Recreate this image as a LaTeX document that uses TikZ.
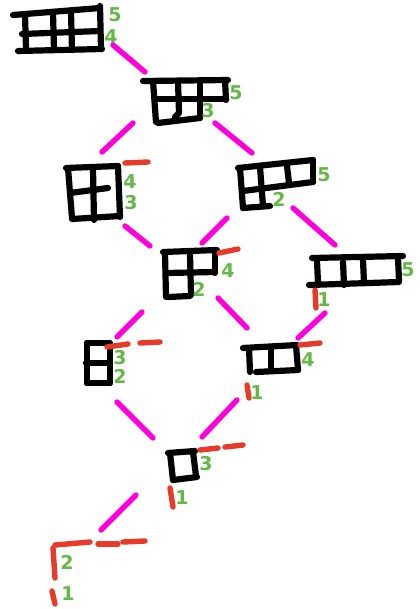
\documentclass[tikz,border=0pt]{standalone}
\usepackage{fontspec}
\newfontfamily\labfont{DejaVu Sans}
\definecolor{mag}{RGB}{255,0,220}
\definecolor{rd}{RGB}{232,58,40}
\definecolor{gr}{RGB}{98,186,70}
\tikzset{
  ink/.style={line width=3.1pt, line cap=round, line join=round, black},
  link/.style={line width=2.7pt, line cap=round, mag},
  edge/.style={line width=2.7pt, line cap=round, rd},
  lab/.style={text=gr, font=\labfont\bfseries\fontsize{9.5}{9.5}\selectfont, inner sep=0pt}
}
\begin{document}
\begin{tikzpicture}[x=0.5pt,y=-0.5pt]
\useasboundingbox (0,0) rectangle (419,609);
% ---- A: 3+3
\draw[ink] (13,15) -- (100,8);
\draw[ink] (22,34) -- (100,31);
\draw[ink] (18,51) -- (102,49);
\draw[ink] (25,15) -- (26,48);
\draw[ink] (53,13) -- (54,50);
\draw[ink] (71,12) -- (72,50);
\draw[ink] (100,6) -- (101,49);
\node[lab] (a5) at (115,15) {5};
\node[lab] (a4) at (111,37) {4};
% ---- B: 3+2
\draw[ink] (143,81) -- (228,80);
\draw[ink] (155,99) -- (226,99);
\draw[ink] (153,81) -- (156,122);
\draw[ink] (178,81) -- (179,113) -- (175,117);
\draw[ink] (200,80) -- (200,118);
\draw[ink] (225,80) -- (226,100);
\draw[ink] (158,123) -- (200,118);
\node[lab] (b5) at (236,93) {5};
\node[lab] (b3) at (208,111) {3};
% ---- C: 2+2
\draw[ink] (66,168) -- (118,166);
\draw[ink] (68,168) -- (72,218);
\draw[ink] (118,166) -- (120,217);
\draw[ink] (72,219) -- (120,216);
\draw[ink] (93,169) -- (94,220);
\draw[ink] (70,193) -- (108,188);
\draw[edge] (125,163) -- (148,162);
\node[lab] (c4) at (130,182) {4};
\node[lab] (c3) at (131,203) {3};
% ---- D: 3+1
\draw[ink] (238,168) -- (313,160);
\draw[ink] (313,160) -- (313,182);
\draw[ink] (243,191) -- (313,182);
\draw[ink] (240,168) -- (243,208);
\draw[ink] (260,167) -- (263,206);
\draw[ink] (287,166) -- (289,183);
\draw[ink] (243,208) -- (270,206);
\node[lab] (d5) at (324,175) {5};
\node[lab] (d2) at (279,199) {2};
% ---- E: 2+1
\draw[ink] (163,252) -- (217,250);
\draw[ink] (165,253) -- (166,297);
\draw[ink] (167,273) -- (215,272);
\draw[ink] (215,251) -- (215,273);
\draw[ink] (190,254) -- (191,295);
\draw[ink] (168,297) -- (190,296);
\draw[edge] (219,253) -- (238,249);
\node[lab] (e4) at (228,271) {4};
\node[lab] (e2) at (199,289) {2};
% ---- F: 3
\draw[ink] (312,258) -- (403,256);
\draw[ink] (309,285) -- (399,282);
\draw[ink] (317,261) -- (318,283);
\draw[ink] (343,262) -- (344,285);
\draw[ink] (363,260) -- (364,283);
\draw[ink] (398,257) -- (399,281);
\draw[edge] (315,290) -- (316,308);
\node[lab] (f5) at (408,270) {5};
\node[lab] (f1) at (324,300) {1};
% ---- G: 1+1
\draw[ink] (87,343) -- (108,343);
\draw[ink] (87,343) -- (87,383);
\draw[ink] (110,343) -- (110,383);
\draw[ink] (86,363) -- (110,363);
\draw[ink] (87,383) -- (110,383);
\draw[edge] (107,347) -- (128,344);
\draw[edge] (140,343) -- (160,342);
\node[lab] (g3) at (120,358) {3};
\node[lab] (g2) at (120,376) {2};
% ---- H: 2
\draw[ink] (243,348) -- (297,345);
\draw[ink] (249,348) -- (250,372);
\draw[ink] (256,372) -- (298,370);
\draw[ink] (296,345) -- (298,370);
\draw[ink] (271,348) -- (271,371);
\draw[edge] (300,345) -- (320,343);
\draw[edge] (247,385) -- (249,398);
\node[lab] (h4) at (308,360) {4};
\node[lab] (h1) at (257,393) {1};
% ---- I: 1
\draw[ink] (168,453) -- (195,451);
\draw[ink] (170,453) -- (173,480);
\draw[ink] (193,452) -- (196,476);
\draw[ink] (173,480) -- (197,477);
\draw[edge] (200,450) -- (218,448);
\draw[edge] (225,447) -- (243,445);
\draw[edge] (170,488) -- (173,507);
\node[lab] (i3) at (206,464) {3};
\node[lab] (i1) at (182,498) {1};
% ---- empty
\draw[edge] (55,545) -- (90,542);
\draw[edge] (98,544) -- (118,544);
\draw[edge] (123,542) -- (145,541);
\draw[edge] (53,548) -- (55,578);
\draw[edge] (52,591) -- (55,604);
\node[lab] (z2) at (67,562) {2};
\node[lab] (z1) at (68,594) {1};
% ---- connectors
\coordinate (ab1) at (113,45); \coordinate (ab2) at (145,72);
\coordinate (bc1) at (133,123); \coordinate (bc2) at (102,152);
\coordinate (bd1) at (215,123); \coordinate (bd2) at (252,153);
\coordinate (ce1) at (125,226); \coordinate (ce2) at (150,246);
\coordinate (de1) at (227,218); \coordinate (de2) at (202,243);
\coordinate (df1) at (293,208); \coordinate (df2) at (335,245);
\coordinate (eg1) at (142,312); \coordinate (eg2) at (117,337);
\coordinate (eh1) at (218,298); \coordinate (eh2) at (247,328);
\coordinate (fh1) at (325,313); \coordinate (fh2) at (298,338);
\coordinate (gi1) at (117,402); \coordinate (gi2) at (153,438);
\coordinate (hi1) at (237,400); \coordinate (hi2) at (202,437);
\coordinate (iz1) at (136,495); \coordinate (iz2) at (101,530);
\foreach \p in {ab,bc,bd,ce,de,df,eg,eh,fh,gi,hi,iz}
  \draw[link] (\p1) -- (\p2);
\end{tikzpicture}
\end{document}
